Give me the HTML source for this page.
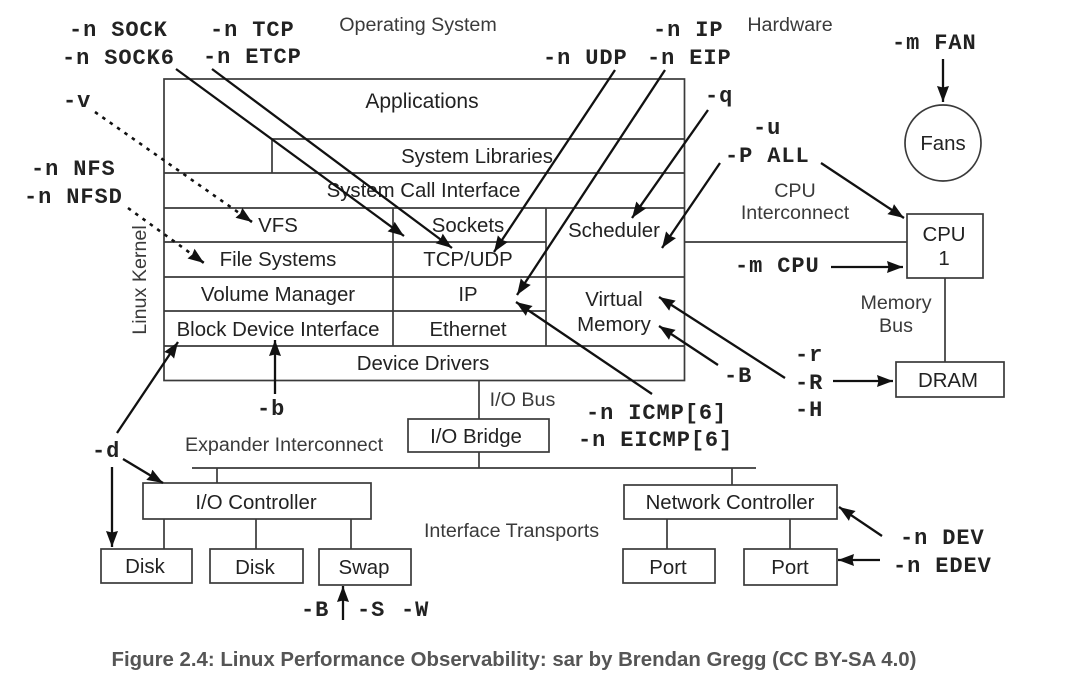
<!DOCTYPE html>
<html><head><meta charset="utf-8"><style>
html,body{margin:0;padding:0;background:#fff}
svg{display:block}
text{font-family:"Liberation Sans",sans-serif;fill:#222;font-size:20.4px;text-anchor:middle}
text.l{font-size:19.7px;fill:#3a3a3a}
text.m{font-family:"Liberation Mono",monospace;font-weight:bold;font-size:22px;letter-spacing:.9px;text-anchor:start;fill:#222}
.b{stroke:#3a3a3a;stroke-width:1.7;fill:none}
.a{stroke:#111;stroke-width:2.3;fill:none;marker-end:url(#h)}
.d{stroke:#111;stroke-width:2.6;fill:none;stroke-dasharray:3.5 5.5;marker-end:url(#h)}
</style></head><body>
<svg width="1080" height="689" viewBox="0 0 1080 689" xmlns="http://www.w3.org/2000/svg">
<defs><marker id="h" markerUnits="userSpaceOnUse" markerWidth="18" markerHeight="14" refX="16" refY="7" orient="auto"><path d="M0 1L16 7L0 13L1.5 7z" fill="#111"/></marker></defs>
<rect class="b" x="164" y="79" width="520.5" height="301.5"/>
<path class="b" d="M272 173V139H684.5M164 173H684.5M164 208H684.5M164 242H546M164 277H684.5M164 311H546M164 346H684.5M393 208V346M546 208V346"/>
<path class="b" d="M684.5 242H907M479 380.5V419M479 452V468M192 468H756M217 468V483M732 468V485M164 519V549M256 519V549M351 519V549M667 519V549M790 519V549M945 278V362"/>
<rect class="b" x="907" y="214" width="76" height="64"/>
<rect class="b" x="896" y="362" width="108" height="35"/>
<rect class="b" x="408" y="419" width="141" height="33"/>
<rect class="b" x="143" y="483" width="228" height="36"/>
<rect class="b" x="624" y="485" width="213" height="34"/>
<rect class="b" x="101" y="549" width="91" height="34"/>
<rect class="b" x="210" y="549" width="93" height="34"/>
<rect class="b" x="319" y="549" width="92" height="36"/>
<rect class="b" x="623" y="549" width="92" height="34"/>
<rect class="b" x="744" y="549" width="93" height="36"/>
<circle class="b" cx="943" cy="143" r="38"/>
<text class="l" x="418" y="31">Operating System</text><text class="l" x="790" y="31">Hardware</text>
<text x="422" y="108" style="font-size:21px">Applications</text><text x="477" y="163">System Libraries</text><text x="423.5" y="197">System Call Interface</text>
<text x="278" y="232">VFS</text><text x="468" y="232">Sockets</text><text x="614" y="237">Scheduler</text>
<text x="278" y="266">File Systems</text><text x="468" y="266">TCP/UDP</text>
<text x="278" y="301">Volume Manager</text><text x="468" y="301">IP</text><text x="614" y="306">Virtual</text><text x="614" y="331">Memory</text>
<text x="278" y="336">Block Device Interface</text><text x="468" y="336">Ethernet</text><text x="423" y="370">Device Drivers</text>
<text class="l" transform="translate(146 280) rotate(-90)">Linux Kernel</text>
<text x="943" y="150">Fans</text><text class="l" x="795" y="197">CPU</text><text class="l" x="795" y="219">Interconnect</text>
<text x="944" y="241">CPU</text><text x="944" y="265">1</text><text class="l" x="896" y="309">Memory</text><text class="l" x="896" y="332">Bus</text>
<text x="948" y="387">DRAM</text><text class="l" x="522.5" y="406">I/O Bus</text><text x="476" y="443">I/O Bridge</text>
<text class="l" x="284" y="451">Expander Interconnect</text><text x="256" y="509">I/O Controller</text><text x="730" y="509">Network Controller</text>
<text class="l" x="511.5" y="537">Interface Transports</text>
<text x="145" y="573">Disk</text><text x="255" y="574">Disk</text><text x="364" y="574">Swap</text><text x="668" y="574">Port</text><text x="790" y="574">Port</text>
<text x="514" y="666" style="font-size:20.4px;font-weight:bold;fill:#555">Figure 2.4: Linux Performance Observability: sar by Brendan Gregg (CC BY-SA 4.0)</text>
<text class="m" x="69" y="36">-n SOCK</text><text class="m" x="62" y="64">-n SOCK6</text><text class="m" x="210" y="36">-n TCP</text><text class="m" x="203" y="63">-n ETCP</text>
<text class="m" x="653" y="36">-n IP</text><text class="m" x="647" y="64">-n EIP</text><text class="m" x="543" y="64">-n UDP</text><text class="m" x="892" y="49">-m FAN</text>
<text class="m" x="63" y="107">-v</text><text class="m" x="705" y="102">-q</text><text class="m" x="753" y="134">-u</text><text class="m" x="725" y="162">-P ALL</text>
<text class="m" x="31" y="175">-n NFS</text><text class="m" x="24" y="203">-n NFSD</text><text class="m" x="735" y="272">-m CPU</text>
<text class="m" x="795" y="361">-r</text><text class="m" x="795" y="389">-R</text><text class="m" x="795" y="416">-H</text><text class="m" x="724" y="382">-B</text>
<text class="m" x="257" y="415">-b</text><text class="m" x="586" y="419">-n ICMP[6]</text><text class="m" x="578" y="446">-n EICMP[6]</text><text class="m" x="92" y="457">-d</text>
<text class="m" x="900" y="544">-n DEV</text><text class="m" x="893" y="572">-n EDEV</text>
<text class="m" x="301" y="616">-B</text><text class="m" x="357" y="616">-S</text><text class="m" x="401" y="616">-W</text>
<path class="a" d="M176 69L404 236"/><path class="a" d="M212 69L452 248"/><path class="a" d="M615 70L494 252"/><path class="a" d="M665 70L517 295"/>
<path class="a" d="M943 59V102"/><path class="a" d="M708 110L632 218"/><path class="a" d="M720 163L662 248"/><path class="a" d="M821 163L904 218"/>
<path class="a" d="M831 267H903"/><path class="a" d="M833 381H893"/><path class="a" d="M785 378L659 297"/><path class="a" d="M718 365L659 326"/>
<path class="a" d="M652 394L516 302"/><path class="a" d="M275 394V340"/><path class="a" d="M117 433L178 342"/><path class="a" d="M123 459L163 483"/><path class="a" d="M112 467V547"/>
<path class="a" d="M882 536L839 507"/><path class="a" d="M880 560H838"/><path class="a" d="M343 620V586"/>
<path class="d" d="M95 112L252 222"/><path class="d" d="M128 208L204 263"/>
</svg>
</body></html>
